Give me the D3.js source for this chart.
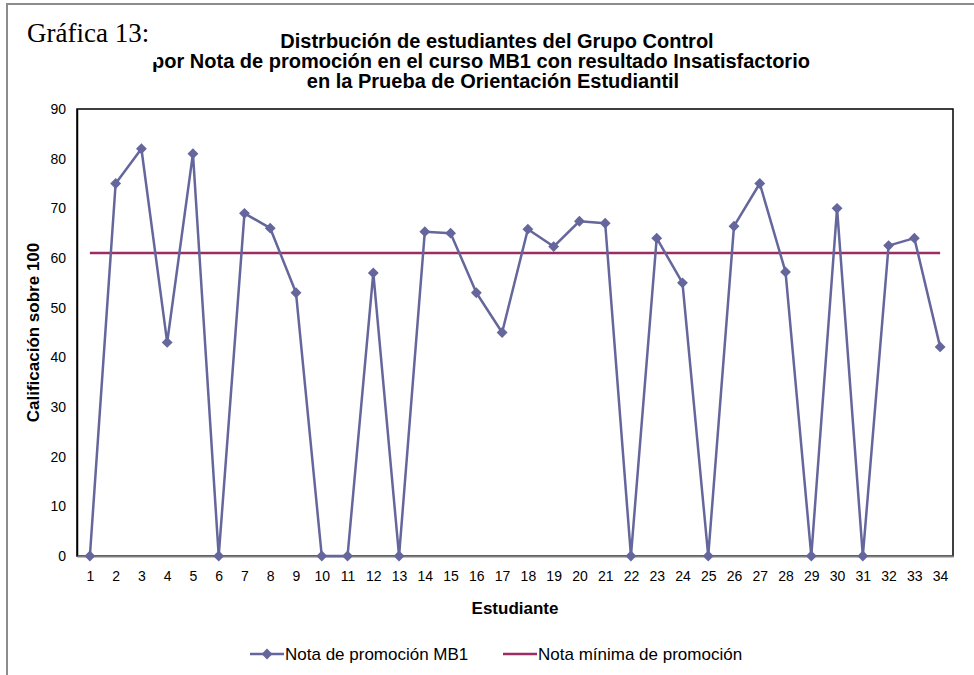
<!DOCTYPE html>
<html>
<head>
<meta charset="utf-8">
<script src="https://cdn.jsdelivr.net/npm/d3@7"></script>
<style>
  body { margin: 0; background: #fff; }
  svg { display: block; font-family: "Liberation Sans", Arial, sans-serif; }
</style>
</head>
<body>
<svg id="chart" width="974" height="675"></svg>
<script>
// data
const students = d3.range(1, 35);
const notaMB1 = [0, 75, 82, 43, 81, 0, 69, 66, 53, 0, 0, 57, 0, 65.3, 65, 53, 45,
  65.8, 62.3, 67.4, 67, 0, 64, 55, 0, 66.4, 75, 57.2, 0, 70, 0, 62.5, 64, 42.1];
const notaMinima = 61;
const yTicks = d3.range(0, 91, 10);
const titleLines = [
  'Distrbución de estudiantes del Grupo Control',
  'por Nota de promoción en el curso MB1 con resultado Insatisfactorio',
  'en la Prueba de Orientación Estudiantil'
];
const seriesNames = ['Nota de promoción MB1', 'Nota mínima de promoción'];

const svg = d3.select('#chart');
const plot = { left: 77, right: 953, top: 109, bottom: 556 };
const blue = '#64669c';
const red = '#9b2d62';

const x = d3.scalePoint().domain(students).range([plot.left, plot.right]).padding(0.5);
const y = d3.scaleLinear().domain([0, 90]).range([plot.bottom, plot.top]);

// outer chart frame (only top and left visible)
svg.append('path')
  .attr('d', 'M7,675V4H974')
  .attr('fill', 'none')
  .attr('stroke', '#8c8c8c')
  .attr('stroke-width', 2);

// title, each line placed where it sits in the original
const titleX = [497, 481, 493];
const titleY = [48, 68, 88];
svg.append('g')
  .attr('font-weight', 'bold')
  .attr('font-size', 20)
  .attr('text-anchor', 'middle')
  .selectAll('text')
  .data(titleLines)
  .join('text')
  .attr('x', (d, i) => titleX[i])
  .attr('y', (d, i) => titleY[i])
  .text(d => d);

// "Gráfica 13:" text box sitting over the title
svg.append('rect')
  .attr('x', 9).attr('y', 6).attr('width', 148).attr('height', 56)
  .attr('fill', '#fff');
svg.append('text')
  .attr('x', 27).attr('y', 42)
  .attr('font-family', '"Liberation Serif", "Times New Roman", serif')
  .attr('font-size', 27)
  .attr('fill', '#000')
  .text('Gráfica 13:');

// plot frame
svg.append('rect')
  .attr('x', plot.left).attr('y', plot.top)
  .attr('width', plot.right - plot.left).attr('height', plot.bottom - plot.top)
  .attr('fill', 'none')
  .attr('stroke', '#000')
  .attr('stroke-width', 1.5);

// axes
const yAxis = svg.append('g')
  .attr('transform', `translate(${plot.left},0)`)
  .call(d3.axisLeft(y).tickValues(yTicks).tickSize(0).tickPadding(11));
yAxis.select('.domain').attr('stroke', '#000').attr('stroke-width', 1.5);
yAxis.selectAll('text').attr('font-size', 14).attr('fill', '#000')
  .attr('font-family', '"Liberation Sans", Arial, sans-serif');

const xAxis = svg.append('g')
  .attr('transform', `translate(0,${plot.bottom})`)
  .call(d3.axisBottom(x).tickSize(0).tickPadding(15));
xAxis.select('.domain').attr('stroke', '#808080').attr('stroke-width', 2);
xAxis.selectAll('text').attr('font-size', 14).attr('fill', '#000')
  .attr('font-family', '"Liberation Sans", Arial, sans-serif');

// axis titles
svg.append('text')
  .attr('transform', `translate(39,${(plot.top + plot.bottom) / 2}) rotate(-90)`)
  .attr('text-anchor', 'middle')
  .attr('font-weight', 'bold')
  .attr('font-size', 17)
  .text('Calificación sobre 100');

svg.append('text')
  .attr('x', (plot.left + plot.right) / 2)
  .attr('y', 614)
  .attr('text-anchor', 'middle')
  .attr('font-weight', 'bold')
  .attr('font-size', 17)
  .text('Estudiante');

// minimum grade line
svg.append('line')
  .attr('x1', x(students[0])).attr('x2', x(students[students.length - 1]))
  .attr('y1', y(notaMinima)).attr('y2', y(notaMinima))
  .attr('stroke', red)
  .attr('stroke-width', 2.5);

// student grades
const line = d3.line()
  .x((d, i) => x(students[i]))
  .y(d => y(d));

svg.append('path')
  .datum(notaMB1)
  .attr('d', line)
  .attr('fill', 'none')
  .attr('stroke', blue)
  .attr('stroke-width', 2.5)
  .attr('stroke-linejoin', 'round');

const diamond = d3.symbol().type(d3.symbolDiamond2).size(75);
svg.append('g').selectAll('path')
  .data(notaMB1)
  .join('path')
  .attr('d', diamond)
  .attr('transform', (d, i) => `translate(${x(students[i])},${y(d)})`)
  .attr('fill', blue);

// legend
const legend = svg.append('g').attr('font-size', 17);
const legendItems = [
  { name: seriesNames[0], color: blue, marker: true, x: 250 },
  { name: seriesNames[1], color: red, marker: false, x: 503 }
];
legendItems.forEach(item => {
  const g = legend.append('g').attr('transform', `translate(${item.x},654)`);
  g.append('line').attr('x1', 0).attr('x2', 34)
    .attr('stroke', item.color).attr('stroke-width', 2.5);
  if (item.marker) {
    g.append('path').attr('d', diamond).attr('transform', 'translate(17,0)').attr('fill', item.color);
  }
  g.append('text').attr('x', 35).attr('y', 6).text(item.name);
});
</script>
</body>
</html>
